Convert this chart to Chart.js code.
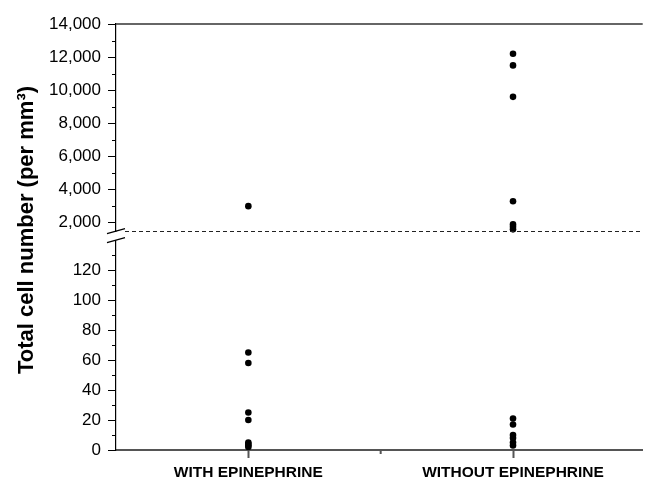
<!DOCTYPE html>
<html>
<head>
<meta charset="utf-8">
<script src="https://cdn.jsdelivr.net/npm/chart.js@4"></script>
<style>
  html, body { margin: 0; padding: 0; background: #fff; }
  #wrap { width: 646px; height: 478px; }
</style>
</head>
<body>
<div id="wrap"><canvas id="cellChart" width="646" height="478"></canvas></div>
<script>
// values
var categories = ['WITH EPINEPHRINE', 'WITHOUT EPINEPHRINE'];
var withHigh = [3000];
var withLow = [65, 58, 25, 20, 5, 4, 3, 2];
var withoutHigh = [12200, 11500, 9600, 3300, 1900, 1750, 1600];
var withoutLow = [21, 17, 10, 8, 5, 3];

// broken y axis: upper segment 1,500-14,000, lower segment 0-140
var upperTicks = [2000, 4000, 6000, 8000, 10000, 12000, 14000];
var upperMinor = [3000, 5000, 7000, 9000, 11000, 13000];
var lowerTicks = [0, 20, 40, 60, 80, 100, 120];
var lowerMinor = [10, 30, 50, 70, 90, 110, 130];
var upperMin = 1500, upperMax = 14000;
var lowerMin = 0, lowerMax = 146, lowerShown = 140;

var yTitle = 'Total cell number (per mm\u00B3)';
var FONT = "'Liberation Sans', Arial, sans-serif";

// x is the category index, the axis runs half a step past each end
function toPoints(idx, values) {
  return values.map(function(v) { return { x: idx, y: v }; });
}

function dotSet(idx, values, axis) {
  return {
    data: toPoints(idx, values),
    yAxisID: axis,
    pointRadius: 3.3,
    pointHoverRadius: 3.3,
    pointBackgroundColor: '#000',
    pointBorderColor: '#000',
    pointBorderWidth: 0,
    clip: false
  };
}

// draws the frame top, minor ticks, the axis break and the y title
var breakPlugin = {
  id: 'axisBreak',
  afterDraw: function(chart) {
    var c = chart.ctx, a = chart.chartArea;
    var up = chart.scales.yUp, low = chart.scales.yLow, xs = chart.scales.x;
    c.save();

    c.strokeStyle = '#333';
    c.lineWidth = 1.5;
    c.beginPath();
    c.moveTo(a.left, a.top);
    c.lineTo(a.right, a.top);
    c.stroke();

    c.strokeStyle = '#000';
    c.lineWidth = 1;
    c.beginPath();
    upperMinor.forEach(function(v) {
      var y = Math.round(up.getPixelForValue(v)) + 0.5;
      c.moveTo(a.left - 4, y); c.lineTo(a.left, y);
    });
    lowerMinor.forEach(function(v) {
      var y = Math.round(low.getPixelForValue(v)) + 0.5;
      c.moveTo(a.left - 4, y); c.lineTo(a.left, y);
    });
    c.stroke();

    // short tick between the two groups
    var xm = xs.getPixelForValue(0.5);
    c.strokeStyle = '#555';
    c.lineWidth = 2;
    c.beginPath();
    c.moveTo(xm, a.bottom); c.lineTo(xm, a.bottom + 4);
    c.stroke();

    // gap in the y axis
    var yb = up.getPixelForValue(upperMin);
    var yt = low.getPixelForValue(lowerShown);
    c.fillStyle = '#fff';
    c.fillRect(a.left - 2, yb + 1, 4, yt - yb - 1);

    c.strokeStyle = '#000';
    c.lineWidth = 1.2;
    c.beginPath();
    c.moveTo(a.left - 9, yb + 2.7); c.lineTo(a.left + 9, yb - 2.3);
    c.moveTo(a.left - 9, yt + 2.7); c.lineTo(a.left + 9, yt - 2.3);
    c.stroke();

    c.strokeStyle = '#222';
    c.lineWidth = 1;
    c.setLineDash([4, 3]);
    c.beginPath();
    c.moveTo(a.left + 9, Math.round(yb) + 0.5);
    c.lineTo(a.right, Math.round(yb) + 0.5);
    c.stroke();
    c.setLineDash([]);

    c.fillStyle = '#000';
    c.font = 'bold 22px ' + FONT;
    c.textAlign = 'center';
    c.textBaseline = 'alphabetic';
    c.translate(33, 230);
    c.rotate(-Math.PI / 2);
    c.fillText(yTitle, 0, 0);
    c.restore();
  }
};

function yAxis(min, max, ticks, weight, order) {
  return {
    type: 'linear',
    position: 'left',
    stack: 'cells',
    stackWeight: weight,
    weight: order,
    min: min,
    max: max,
    afterBuildTicks: function(scale) {
      scale.ticks = ticks.map(function(v) { return { value: v }; });
    },
    afterFit: function(scale) { scale.width = 116; },
    ticks: {
      color: '#000',
      padding: 7,
      autoSkip: false,
      font: { family: FONT, size: 17 },
      callback: function(v) { return v.toLocaleString('en-US'); }
    },
    grid: { drawOnChartArea: false, tickLength: 8, tickColor: '#000', tickWidth: 1 },
    border: { color: '#000', width: 1.2 }
  };
}

var ctx = document.getElementById('cellChart').getContext('2d');
var cellChart = new Chart(ctx, {
  type: 'scatter',
  data: {
    datasets: [
      dotSet(0, withHigh, 'yUp'),
      dotSet(0, withLow, 'yLow'),
      dotSet(1, withoutHigh, 'yUp'),
      dotSet(1, withoutLow, 'yLow')
    ]
  },
  options: {
    responsive: false,
    animation: false,
    layout: { padding: { top: 24, right: 0, left: 0, bottom: 0 } },
    plugins: { legend: { display: false }, tooltip: { enabled: false } },
    scales: {
      x: {
        type: 'linear',
        min: -0.5,
        max: 1.49,
        position: 'bottom',
        afterBuildTicks: function(scale) {
          scale.ticks = categories.map(function(c, i) { return { value: i }; });
        },
        afterFit: function(scale) { scale.height = 28; },
        ticks: {
          color: '#000',
          padding: 5,
          autoSkip: false,
          maxRotation: 0,
          font: { family: FONT, size: 15.5, weight: 'bold' },
          callback: function(v) { return categories[v]; }
        },
        grid: { drawOnChartArea: false, tickLength: 8, tickColor: '#555', tickWidth: 2 },
        border: { color: '#555', width: 2 }
      },
      yLow: yAxis(lowerMin, lowerMax, lowerTicks, 219, 1),
      yUp: yAxis(upperMin, upperMax, upperTicks, 207, 2)
    }
  },
  plugins: [breakPlugin]
});
</script>
</body>
</html>
